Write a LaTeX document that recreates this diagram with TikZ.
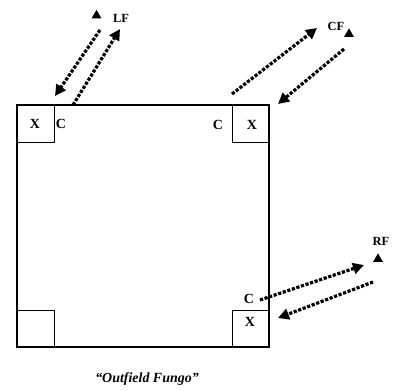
\documentclass[tikz,border=0pt]{standalone}
\usepackage{fontspec}
\setmainfont{Liberation Serif}
\usetikzlibrary{arrows.meta,shapes.geometric}
\begin{document}
\begin{tikzpicture}[x=1bp,y=-1bp,
  field/.style={draw, line width=1.3bp},
  basebox/.style={draw, line width=1.3bp, minimum size=37bp, inner sep=0pt, anchor=north west},
  lbl/.style={font=\bfseries\fontsize{14}{16}\selectfont, inner sep=0pt},
  fielder/.style={font=\bfseries\fontsize{12.5}{14}\selectfont, inner sep=0pt},
  throw/.style={line width=3.2bp, dash pattern=on 3.2bp off 1.6bp, -{Triangle[length=11bp,width=11bp]}},
  fmark/.style={fill, isosceles triangle, shape border rotate=90, isosceles triangle apex angle=60, minimum height=8.5bp, inner sep=0pt}
]
\useasboundingbox (0,0) rectangle (398,391);
% field
\coordinate (TL) at (17,105);
\coordinate (BR) at (269,347);
\draw[field] (TL) rectangle (BR);
\node[basebox] (b1) at (17,105) {};
\node[basebox] (b2) at (232,105) {};
\node[basebox] (b3) at (232,310) {};
\node[basebox] (b4) at (17,310) {};
% labels
\node[lbl] (x1) at (35,124) {X};
\node[lbl] (c1) at (61,124) {C};
\node[lbl] (c2) at (218,125) {C};
\node[lbl] (x2) at (252,125) {X};
\node[lbl] (c3) at (249,299) {C};
\node[lbl] (x3) at (250,322) {X};
% fielders
\node[fielder] (lf) at (121,18) {LF};
\node[fielder] (cf) at (336,26) {CF};
\node[fielder] (rf) at (381,241) {RF};
\node[fmark] (mlf) at (96.5,15.5) {};
\node[fmark] (mcf) at (349,34) {};
\node[fmark] (mrf) at (378,259) {};
% throw endpoints
\coordinate (a1s) at (100,30);
\coordinate (a1e) at (55,96);
\coordinate (a2s) at (73,105);
\coordinate (a2e) at (120,29);
\coordinate (a3s) at (232,94);
\coordinate (a3e) at (317,28);
\coordinate (a4s) at (344,49);
\coordinate (a4e) at (278,104);
\coordinate (a5s) at (260,300);
\coordinate (a5e) at (364,265);
\coordinate (a6s) at (373,282);
\coordinate (a6e) at (278,318);
\draw[throw] (a1s) -- (a1e);
\draw[throw] (a2s) -- (a2e);
\draw[throw] (a3s) -- (a3e);
\draw[throw] (a4s) -- (a4e);
\draw[throw] (a5s) -- (a5e);
\draw[throw] (a6s) -- (a6e);
% caption
\node[font=\bfseries\itshape\fontsize{14}{16}\selectfont, inner sep=0pt] (cap) at (147,379) {“Outfield Fungo”};
\end{tikzpicture}
\end{document}
